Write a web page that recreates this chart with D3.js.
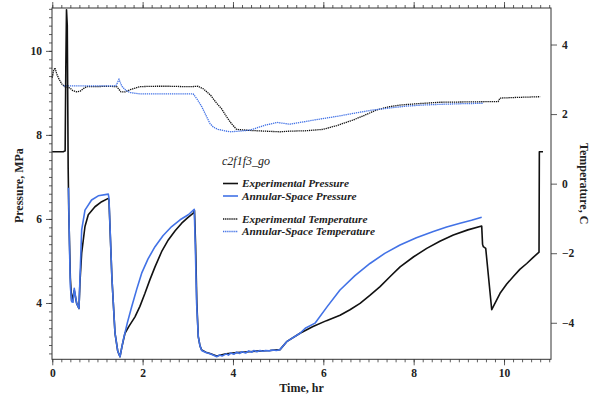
<!DOCTYPE html>
<html>
<head>
<meta charset="utf-8">
<script src="https://cdn.jsdelivr.net/npm/d3@7"></script>
<style>
  html, body { margin: 0; padding: 0; background: #fff; }
  svg { display: block; }
  text { font-family: "Liberation Serif", "DejaVu Serif", serif; }
</style>
</head>
<body>
<svg id="chart" width="593" height="401"></svg>
<script>
// ---- data (hours, value) ----
const expPressure = [
  [0.00,7.60],[0.243,7.60],[0.285,7.62],[0.300,9.60],[0.315,10.98],[0.332,10.60],[0.352,7.20],
  [0.365,6.20],[0.40,4.60],[0.429,4.05],[0.487,4.30],[0.540,3.99],[0.591,3.87],[0.613,4.50],
  [0.651,5.19],[0.724,5.82],[0.797,6.10],[0.945,6.29],[1.094,6.41],[1.240,6.49],[1.255,6.45],
  [1.320,4.60],[1.388,3.29],[1.450,2.85],[1.499,2.72],[1.540,2.95],[1.609,3.28],[1.700,3.45],
  [1.831,3.67],[1.940,3.92],[2.052,4.23],[2.160,4.55],[2.274,4.86],[2.420,5.22],[2.568,5.50],
  [2.720,5.72],[2.865,5.90],[3.000,6.03],[3.122,6.14],[3.148,6.20],[3.172,5.40],[3.200,4.00],
  [3.232,3.20],[3.270,2.98],[3.307,2.88],[3.400,2.83],[3.491,2.80],[3.640,2.74],[3.850,2.79],
  [4.082,2.82],[4.350,2.84],[4.598,2.86],[4.820,2.87],[5.041,2.89],[5.189,3.08],[5.484,3.28],
  [5.772,3.44],[6.070,3.58],[6.370,3.71],[6.590,3.84],[6.813,3.99],[7.030,4.18],[7.256,4.39],
  [7.480,4.63],[7.699,4.86],[8.000,5.10],[8.289,5.30],[8.580,5.47],[8.878,5.62],[9.200,5.74],
  [9.506,5.83],[9.525,5.40],[9.542,5.34],[9.595,5.30],[9.728,3.84],[9.912,4.23],[10.060,4.45],
  [10.206,4.63],[10.350,4.80],[10.503,4.94],[10.640,5.08],[10.775,5.21],[10.782,7.60],[10.863,7.60]
];
const annPressure = [
  [0.359,6.74],[0.380,5.40],[0.400,4.40],[0.429,4.03],[0.460,4.02],[0.487,4.35],[0.540,3.99],
  [0.591,3.87],[0.620,4.80],[0.651,5.74],[0.724,6.21],[0.870,6.45],[1.018,6.55],[1.240,6.59],
  [1.255,6.50],[1.320,4.60],[1.388,3.29],[1.450,2.85],[1.499,2.72],[1.572,3.12],[1.660,3.52],
  [1.758,3.91],[1.870,4.33],[1.979,4.71],[2.120,5.05],[2.274,5.34],[2.450,5.60],[2.643,5.82],
  [2.830,5.98],[3.011,6.10],[3.143,6.23],[3.165,5.40],[3.195,4.00],[3.232,3.20],[3.270,2.98],
  [3.307,2.87],[3.400,2.82],[3.491,2.79],[3.560,2.76],[3.640,2.72],[3.700,2.76],[3.760,2.74],
  [3.850,2.79],[3.900,2.76],[3.950,2.81],[4.020,2.78],[4.082,2.83],[4.150,2.80],[4.200,2.84],
  [4.280,2.81],[4.350,2.86],[4.420,2.83],[4.460,2.87],[4.530,2.84],[4.598,2.87],[4.660,2.85],
  [4.720,2.87],[4.800,2.86],[4.880,2.88],[4.960,2.87],[5.041,2.89],[5.189,3.08],[5.484,3.28],
  [5.600,3.40],[5.816,3.52],[6.090,3.92],[6.369,4.31],[6.700,4.65],[7.033,4.94],[7.360,5.18],
  [7.698,5.38],[8.060,5.55],[8.435,5.70],[8.730,5.81],[9.026,5.90],[9.280,5.97],[9.506,6.04]
];
const expTemperature = [
  [0.00,3.05],[0.03,3.25],[0.06,3.33],[0.10,3.15],[0.15,3.00],[0.22,2.85],[0.28,2.79],
  [0.39,2.75],[0.45,2.68],[0.54,2.64],[0.62,2.66],[0.70,2.74],[0.76,2.79],[1.00,2.79],
  [1.20,2.80],[1.426,2.79],[1.52,2.64],[1.62,2.64],[1.72,2.70],[1.94,2.79],[2.30,2.80],
  [2.60,2.80],[2.90,2.79],[3.10,2.79],[3.226,2.80],[3.35,2.72],[3.50,2.55],[3.64,2.31],
  [3.75,2.15],[3.86,1.92],[3.97,1.72],[4.08,1.56],[4.38,1.53],[4.70,1.51],[5.04,1.49],
  [5.26,1.51],[5.60,1.52],[5.99,1.56],[6.30,1.67],[6.66,1.83],[6.92,1.97],[7.18,2.12],
  [7.45,2.21],[7.70,2.26],[8.10,2.30],[8.58,2.34],[9.20,2.35],[9.87,2.36],[9.91,2.46],
  [10.30,2.48],[10.80,2.50]
];
const annTemperature = [
  [0.25,2.81],[0.60,2.81],[1.00,2.81],[1.41,2.81],[1.477,3.00],[1.54,2.80],[1.63,2.68],
  [1.72,2.62],[1.94,2.58],[2.40,2.58],[2.80,2.58],[3.12,2.58],[3.21,2.42],[3.31,2.21],
  [3.40,1.97],[3.49,1.73],[3.57,1.62],[3.67,1.56],[3.93,1.49],[4.15,1.51],[4.38,1.54],
  [4.71,1.68],[4.97,1.76],[5.26,1.71],[5.80,1.83],[6.37,1.95],[6.75,2.04],[7.11,2.12],
  [7.50,2.18],[7.85,2.23],[8.20,2.26],[8.58,2.28],[9.10,2.30],[9.54,2.31]
];
const xMajorTicks = [0, 2, 4, 6, 8, 10];
const pMajorTicks = [4, 6, 8, 10];
const tMajorTicks = [-4, -2, 0, 2, 4];
const legendLabels = ["Experimental Pressure", "Annular-Space Pressure",
                      "Experimental Temperature", "Annular-Space Temperature"];
const caseName = "c2f1f3_go";

// ---- layout ----
const BLUE = "#4272e6";
const svg = d3.select("#chart");
const L = 52, R = 551, T = 8, B = 359.3;

const x = d3.scaleLinear().domain([-0.006, 11.04]).range([L, R]);
const yP = d3.scaleLinear().domain([2.66, 11.02]).range([B, T]);
const yT = d3.scaleLinear().domain([-5.05, 5.05]).range([B, T]);

const xMinor = d3.range(0, 11.01, 0.2).map(v => +v.toFixed(1));
const pMinor = d3.range(2.8, 11.01, 0.2).map(v => +v.toFixed(1));

function styleAxis(g) {
  g.select(".domain").remove();
  g.selectAll("line").attr("stroke", "#333").attr("stroke-width", 0.8);
  g.selectAll("text").attr("fill", "#222").attr("font-size", 11.5).attr("font-weight", "bold");
}

// bottom
svg.append("g").attr("transform", `translate(0,${B})`)
  .call(d3.axisBottom(x).tickValues(xMinor).tickSize(3).tickFormat(""))
  .call(styleAxis);
svg.append("g").attr("transform", `translate(0,${B})`)
  .call(d3.axisBottom(x).tickValues(xMajorTicks).tickSize(6).tickPadding(4).tickFormat(d3.format("d")))
  .call(styleAxis);
// top
svg.append("g").attr("transform", `translate(0,${T})`)
  .call(d3.axisTop(x).tickValues(xMinor).tickSize(3).tickFormat(""))
  .call(styleAxis);
svg.append("g").attr("transform", `translate(0,${T})`)
  .call(d3.axisTop(x).tickValues(xMajorTicks).tickSize(6).tickFormat(""))
  .call(styleAxis);
// left
svg.append("g").attr("transform", `translate(${L},0)`)
  .call(d3.axisLeft(yP).tickValues(pMinor).tickSize(3).tickFormat(""))
  .call(styleAxis);
svg.append("g").attr("transform", `translate(${L},0)`)
  .call(d3.axisLeft(yP).tickValues(pMajorTicks).tickSize(6).tickPadding(4).tickFormat(d3.format("d")))
  .call(styleAxis);
// right
svg.append("g").attr("transform", `translate(${R},0)`)
  .call(d3.axisRight(yT).tickValues(tMajorTicks).tickSize(6).tickPadding(5).tickFormat(d3.format("d")))
  .call(styleAxis);

// frame
svg.append("rect").attr("x", L).attr("y", T).attr("width", R - L).attr("height", B - T)
  .attr("fill", "none").attr("stroke", "#333").attr("stroke-width", 1);

// axis titles
svg.append("text").attr("x", (L + R) / 2).attr("y", 392).attr("text-anchor", "middle")
  .attr("font-size", 12).attr("font-weight", "bold").attr("fill", "#222").text("Time, hr");
svg.append("text").attr("transform", `translate(23,${(T + B) / 2 + 2}) rotate(-90)`)
  .attr("text-anchor", "middle").attr("font-size", 12).attr("font-weight", "bold").attr("fill", "#222")
  .text("Pressure, MPa");
svg.append("text").attr("transform", `translate(580,${(T + B) / 2}) rotate(90)`)
  .attr("text-anchor", "middle").attr("font-size", 12).attr("font-weight", "bold").attr("fill", "#222")
  .text("Temperature, C");

// lines
const lineP = d3.line().x(d => x(d[0])).y(d => yP(d[1]));
const lineT = d3.line().x(d => x(d[0])).y(d => yT(d[1]));

const plot = svg.append("g");
plot.append("path").datum(expTemperature).attr("d", lineT)
  .attr("fill", "none").attr("stroke", "#111").attr("stroke-width", 1.3).attr("stroke-dasharray", "1.3,0.8");
plot.append("path").datum(annTemperature).attr("d", lineT)
  .attr("fill", "none").attr("stroke", BLUE).attr("stroke-width", 1.3).attr("stroke-dasharray", "1.3,0.8");
plot.append("path").datum(expPressure).attr("d", lineP)
  .attr("fill", "none").attr("stroke", "#111").attr("stroke-width", 1.6).attr("stroke-linejoin", "round");
plot.append("path").datum(annPressure).attr("d", lineP)
  .attr("fill", "none").attr("stroke", BLUE).attr("stroke-width", 1.6).attr("stroke-linejoin", "round");

// legend
const lg = svg.append("g");
lg.append("text").attr("x", 222).attr("y", 165).attr("font-size", 12).attr("font-style", "italic")
  .attr("fill", "#222").text(caseName);
const legendRows = [
  {y: 183.5, color: "#111", dash: null},
  {y: 196, color: BLUE, dash: null},
  {y: 219, color: "#111", dash: "1.3,0.8"},
  {y: 231.5, color: BLUE, dash: "1.3,0.8"}
];
legendRows.forEach((r, i) => {
  lg.append("line").attr("x1", 223).attr("x2", 238).attr("y1", r.y).attr("y2", r.y)
    .attr("stroke", r.color).attr("stroke-width", r.dash ? 1.3 : 1.6)
    .attr("stroke-dasharray", r.dash);
  lg.append("text").attr("x", 242).attr("y", r.y + 3.5).attr("font-size", 11.3)
    .attr("font-style", "italic").attr("font-weight", "bold").attr("fill", "#222")
    .text(legendLabels[i]);
});
</script>
</body>
</html>
